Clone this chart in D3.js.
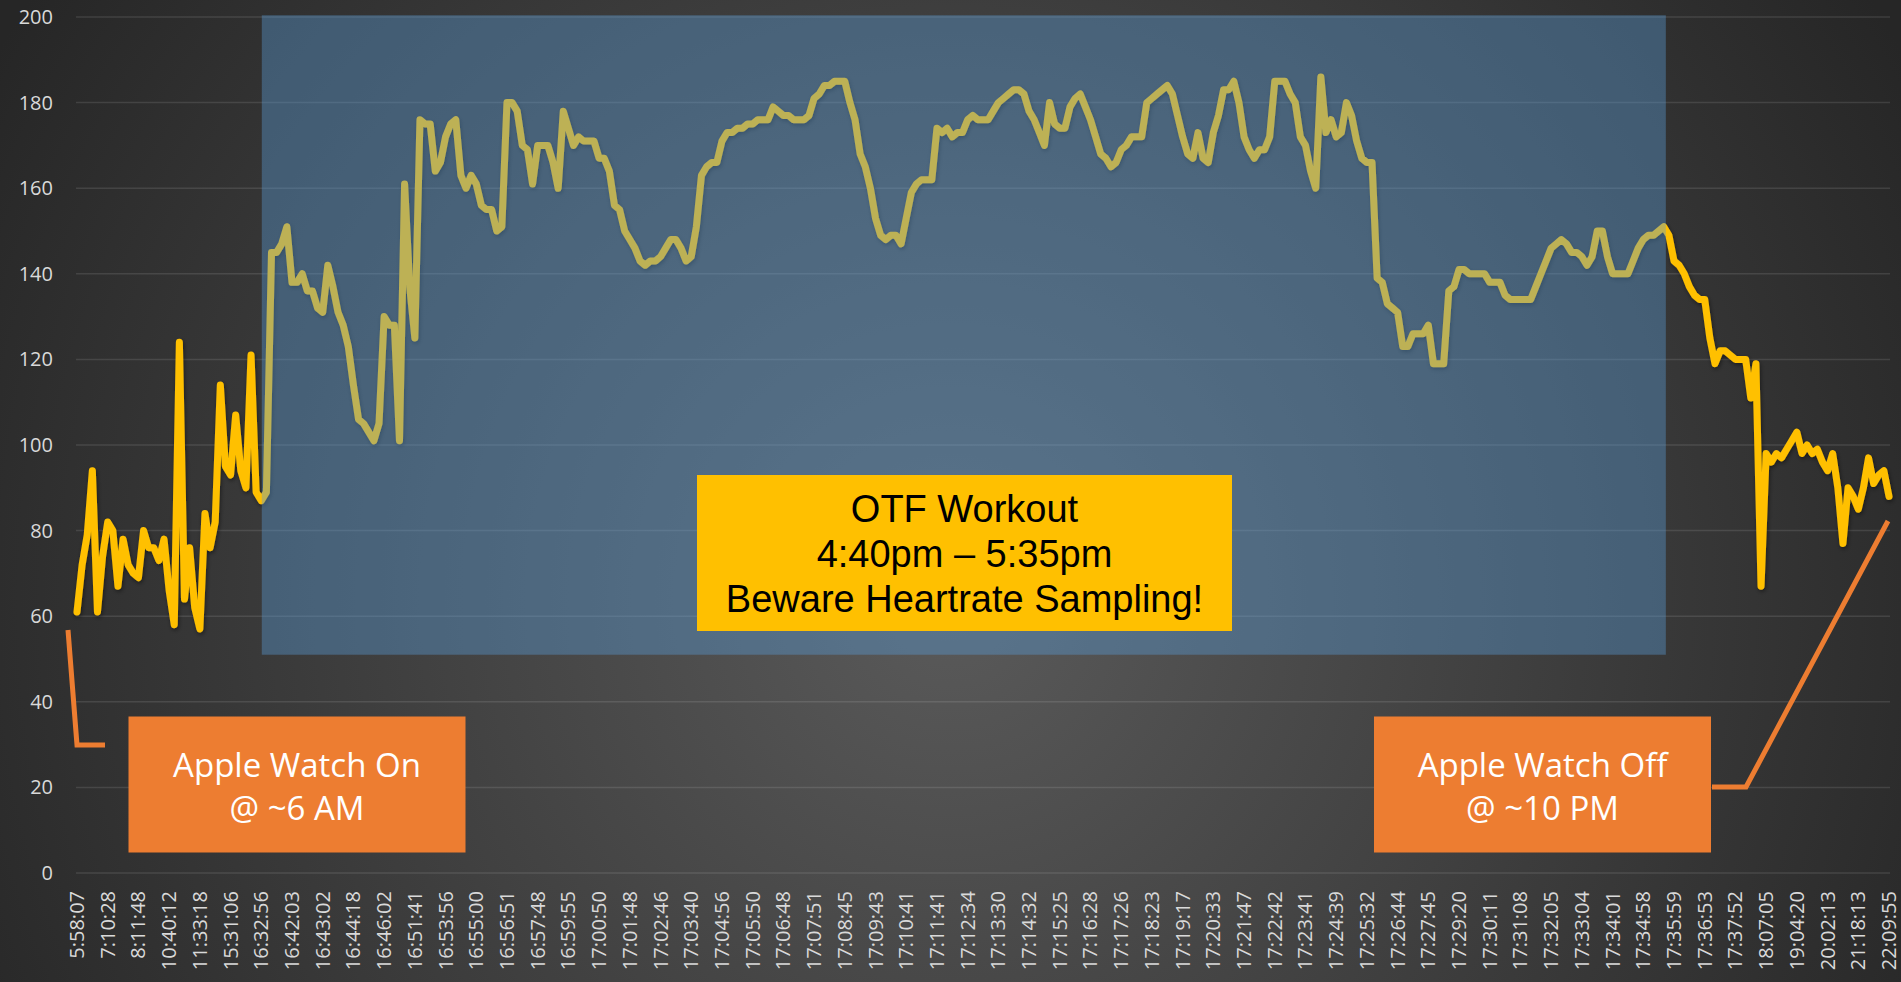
<!DOCTYPE html>
<html>
<head>
<meta charset="utf-8">
<script src="https://cdn.jsdelivr.net/npm/d3@7"></script>
<style>
    html, body { margin: 0; padding: 0; background: #2a2a2a; overflow: hidden; }
</style>
</head>
<body>
<div id="chart"></div>
<script>
// Category labels, one every pointsPerLabel samples
const timeLabels = ['5:58:07', '7:10:28', '8:11:48', '10:40:12', '11:33:18', '15:31:06', '16:32:56', '16:42:03',
    '16:43:02', '16:44:18', '16:46:02', '16:51:41', '16:53:56', '16:55:00', '16:56:51', '16:57:48', '16:59:55',
    '17:00:50', '17:01:48', '17:02:46', '17:03:40', '17:04:56', '17:05:50', '17:06:48', '17:07:51', '17:08:45',
    '17:09:43', '17:10:41', '17:11:41', '17:12:34', '17:13:30', '17:14:32', '17:15:25', '17:16:28', '17:17:26',
    '17:18:23', '17:19:17', '17:20:33', '17:21:47', '17:22:42', '17:23:41', '17:24:39', '17:25:32', '17:26:44',
    '17:27:45', '17:29:20', '17:30:11', '17:31:08', '17:32:05', '17:33:04', '17:34:01', '17:34:58', '17:35:59',
    '17:36:53', '17:37:52', '18:07:05', '19:04:20', '20:02:13', '21:18:13', '22:09:55'];
const pointsPerLabel = 6;

// Heart rate samples (bpm)
const heartRate = [
    61, 72, 79, 94, 61, 74, 82, 80, 67, 78,
    72, 70, 69, 80, 76, 76, 73, 78, 66, 58,
    124, 64, 76, 62, 57, 84, 76, 82, 114, 95,
    93, 107, 94, 90, 121, 89, 87, 89, 145, 145,
    147, 151, 138, 138, 140, 136, 136, 132, 131, 142,
    137, 131, 128, 123, 114, 106, 105, 103, 101, 105,
    130, 128, 128, 101, 161, 137, 125, 176, 175, 175,
    164, 166, 172, 175, 176, 163, 160, 163, 161, 156,
    155, 155, 150, 151, 180, 180, 178, 170, 169, 161,
    170, 170, 170, 166, 160, 178, 174, 170, 172, 171,
    171, 171, 167, 167, 164, 156, 155, 150, 148, 146,
    143, 142, 143, 143, 144, 146, 148, 148, 146, 143,
    144, 151, 163, 165, 166, 166, 171, 173, 173, 174,
    174, 175, 175, 176, 176, 176, 179, 178, 177, 177,
    176, 176, 176, 177, 181, 182, 184, 184, 185, 185,
    185, 180, 176, 168, 165, 160, 153, 149, 148, 149,
    149, 147, 153, 159, 161, 162, 162, 162, 174, 173,
    174, 172, 173, 173, 176, 177, 176, 176, 176, 178,
    180, 181, 182, 183, 183, 182, 178, 176, 173, 170,
    180, 175, 174, 174, 179, 181, 182, 179, 176, 172,
    168, 167, 165, 166, 169, 170, 172, 172, 172, 180,
    181, 182, 183, 184, 182, 177, 172, 168, 167, 173,
    167, 166, 173, 177, 183, 183, 185, 180, 172, 169,
    167, 169, 169, 172, 185, 185, 185, 182, 180, 172,
    170, 164, 160, 186, 173, 176, 172, 173, 180, 177,
    171, 167, 166, 166, 139, 138, 133, 132, 131, 123,
    123, 126, 126, 126, 128, 119, 119, 119, 136, 137,
    141, 141, 140, 140, 140, 140, 138, 138, 138, 135,
    134, 134, 134, 134, 134, 137, 140, 143, 146, 147,
    148, 147, 145, 145, 144, 142, 144, 150, 150, 144,
    140, 140, 140, 140, 143, 146, 148, 149, 149, 150,
    151, 149, 143, 142, 140, 137, 135, 134, 134, 125,
    119, 122, 122, 121, 120, 120, 120, 111, 119, 67,
    98, 96, 98, 97, 99, 101, 103, 98, 100, 98,
    99, 96, 94, 98, 90, 77, 90, 88, 85, 90,
    97, 91, 93, 94, 88
];

// Workout window, in sample index and bpm units
const workoutFrom = 36.1;
const workoutTo = 310.4;
const workoutBpm = [51, 200.4];

const workoutText = ['OTF Workout', '4:40pm \u2013 5:35pm', 'Beware Heartrate Sampling!'];
const watchOnText = ['Apple Watch On', '@ ~6 AM'];
const watchOffText = ['Apple Watch Off', '@ ~10 PM'];

const width = 1901;
const height = 982;

const svg = d3.select('#chart').append('svg')
    .attr('width', width)
    .attr('height', height);

const defs = svg.append('defs');
const bg = defs.append('radialGradient')
    .attr('id', 'bg')
    .attr('gradientUnits', 'userSpaceOnUse')
    .attr('cx', 950)
    .attr('cy', 600)
    .attr('r', 1100);
bg.append('stop').attr('offset', 0).attr('stop-color', '#5a5a5a');
bg.append('stop').attr('offset', 1).attr('stop-color', '#262626');

const shadow = defs.append('filter')
    .attr('id', 'shadow')
    .attr('x', '-5%').attr('y', '-5%')
    .attr('width', '110%').attr('height', '110%');
shadow.append('feDropShadow')
    .attr('dx', 1).attr('dy', 2)
    .attr('stdDeviation', 2)
    .attr('flood-color', '#000')
    .attr('flood-opacity', 0.45);

// Background
svg.append('rect')
    .attr('width', width)
    .attr('height', height)
    .attr('fill', 'url(#bg)');

const x = d3.scaleLinear()
    .domain([0, heartRate.length - 1])
    .range([77, 1889]);
const y = d3.scaleLinear()
    .domain([0, 200])
    .range([873, 17]);

// Gridlines
svg.append('g').selectAll('line')
    .data(y.ticks(10)).enter()
    .append('line')
    .attr('x1', 76)
    .attr('x2', 1890)
    .attr('y1', d => y(d))
    .attr('y2', d => y(d))
    .attr('stroke', 'rgba(255,255,255,0.11)')
    .attr('stroke-width', 1.5);

// Y labels
svg.append('g').selectAll('text')
    .data(y.ticks(10)).enter()
    .append('text')
    .attr('x', 53)
    .attr('y', d => y(d))
    .attr('dy', '0.35em')
    .attr('text-anchor', 'end')
    .attr('font-family', 'Open Sans, sans-serif')
    .attr('font-size', 20)
    .attr('fill', '#d9d9d9')
    .text(d => d);

// X labels
svg.append('g').selectAll('text')
    .data(timeLabels).enter()
    .append('text')
    .attr('transform', (d, i) => `translate(${x(i * pointsPerLabel)}, 891) rotate(-90)`)
    .attr('dy', '0.35em')
    .attr('text-anchor', 'end')
    .attr('font-family', 'Open Sans, sans-serif')
    .attr('font-size', 20)
    .attr('fill', '#d9d9d9')
    .text(d => d);

// The heart rate line
const line = d3.line()
    .x((d, i) => x(i))
    .y(d => y(d));
svg.append('path')
    .datum(heartRate)
    .attr('d', line)
    .attr('fill', 'none')
    .attr('stroke', '#FFC000')
    .attr('stroke-width', 7)
    .attr('stroke-linejoin', 'round')
    .attr('stroke-linecap', 'round')
    .attr('filter', 'url(#shadow)');

// Workout overlay
svg.append('rect')
    .attr('x', x(workoutFrom))
    .attr('y', y(workoutBpm[1]))
    .attr('width', x(workoutTo) - x(workoutFrom))
    .attr('height', y(workoutBpm[0]) - y(workoutBpm[1]))
    .attr('fill', '#5B9BD5')
    .attr('fill-opacity', 0.4);

// Workout note
svg.append('rect')
    .attr('x', 697)
    .attr('y', 475)
    .attr('width', 535)
    .attr('height', 156)
    .attr('fill', '#FFC000');
svg.append('g').selectAll('text')
    .data(workoutText).enter()
    .append('text')
    .attr('x', 964.5)
    .attr('y', (d, i) => 509 + i * 45)
    .attr('dy', '0.35em')
    .attr('text-anchor', 'middle')
    .attr('font-family', 'Liberation Sans, Arial, sans-serif')
    .attr('font-size', 38)
    .attr('fill', '#000')
    .text(d => d);

// Apple watch callouts
const callouts = [
    {x: 128.5, lines: watchOnText, leader: [[68, 630], [77, 745], [105, 745]]},
    {x: 1374, lines: watchOffText, leader: [[1712, 787], [1746, 787], [1888, 521]]}
];

callouts.forEach(c => {
    svg.append('path')
        .attr('d', d3.line()(c.leader))
        .attr('fill', 'none')
        .attr('stroke', '#ED7D31')
        .attr('stroke-width', 5);

    svg.append('rect')
        .attr('x', c.x)
        .attr('y', 716.5)
        .attr('width', 337)
        .attr('height', 136)
        .attr('fill', '#ED7D31');

    svg.append('g').selectAll('text')
        .data(c.lines).enter()
        .append('text')
        .attr('x', c.x + 168.5)
        .attr('y', (d, i) => 765 + i * 43)
        .attr('dy', '0.35em')
        .attr('text-anchor', 'middle')
        .attr('font-family', 'Open Sans, sans-serif')
        .attr('font-size', 33)
        .attr('fill', '#fff')
        .text(d => d);
});
</script>
</body>
</html>
